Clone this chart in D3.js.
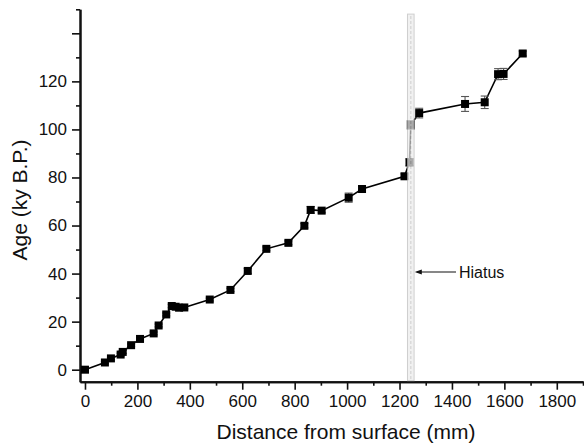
<!DOCTYPE html>
<html>
<head>
<meta charset="utf-8">
<script src="https://cdn.jsdelivr.net/npm/d3@7"></script>
<style>
  html, body { margin: 0; padding: 0; background: #fff; }
  svg { display: block; font-family: "Liberation Sans", Arial, Helvetica, sans-serif; }
</style>
</head>
<body>
<svg id="chart" width="584" height="445"></svg>
<script>
// Data
const depths = [0, 76, 99, 136, 144, 176, 210, 262, 281, 310, 331, 346, 359, 379, 476, 555, 621, 692, 776, 837, 861, 903, 1006, 1057, 1219, 1238, 1243, 1275, 1450, 1525, 1576, 1597, 1670];
const ages   = [0, 3.0, 4.7, 6.3, 7.4, 10.2, 12.8, 15.1, 18.4, 23.0, 26.5, 26.2, 25.8, 25.9, 29.2, 33.2, 41.1, 50.3, 52.8, 59.9, 66.5, 66.2, 71.6, 75.2, 80.5, 86.3, 101.9, 106.8, 110.6, 111.3, 123.0, 123.1, 131.6];
const errors = [0.5, 0.5, 0.5, 0.6, 0.6, 0.5, 0.5, 0.6, 0.6, 0.6, 0.7, 0.7, 0.6, 0.6, 0.6, 0.7, 1.0, 0.8, 0.8, 0.9, 1.4, 0.9, 1.9, 1.2, 1.0, 1.5, 1.8, 2.0, 3.1, 2.6, 2.3, 2.3, 1.0];
const xMajorTicks = [0, 200, 400, 600, 800, 1000, 1200, 1400, 1600, 1800];
const xMinorTicks = [100, 300, 500, 700, 900, 1100, 1300, 1500, 1700, 1900];
const yMajorTicks = [0, 20, 40, 60, 80, 100, 120, 140];
const yTickLabels = ["0", "20", "40", "60", "80", "100", "120", ""];
const yMinorTicks = [10, 30, 50, 70, 90, 110, 130, 150];
const hiatusDepth = 1243;
const hiatusTop = 148;
const hiatusLabel = "Hiatus";
const xTitle = "Distance from surface (mm)";
const yTitle = "Age (ky B.P.)";

const svg = d3.select("#chart");
const x = d3.scaleLinear().domain([-19, 1900]).range([80, 583]);
const y = d3.scaleLinear().domain([-5, 150]).range([381.7, 9.3]);

const data = depths.map((d, i) => ({ d, a: ages[i], e: errors[i] }));

// Axes
const xAxisMinor = d3.axisBottom(x).tickValues(xMinorTicks).tickSize(4).tickSizeOuter(0).tickFormat("");
const xAxis = d3.axisBottom(x).tickValues(xMajorTicks).tickSize(8).tickSizeOuter(0).tickPadding(5)
  .tickFormat(d3.format("d"));
const yAxisMinor = d3.axisLeft(y).tickValues(yMinorTicks).tickSize(4).tickSizeOuter(0).tickFormat("");
const yAxis = d3.axisLeft(y).tickValues(yMajorTicks).tickSize(8).tickSizeOuter(0).tickPadding(5)
  .tickFormat((v, i) => yTickLabels[i]);

const gx = svg.append("g").attr("transform", `translate(0,${y(-5)})`);
gx.append("g").call(xAxisMinor);
gx.append("g").call(xAxis);
const gy = svg.append("g").attr("transform", `translate(${x(-19)},0)`);
gy.append("g").call(yAxisMinor);
gy.append("g").call(yAxis);

svg.selectAll(".domain").attr("stroke", "#111").attr("stroke-width", 2);
svg.selectAll(".tick line").attr("stroke", "#111").attr("stroke-width", 1.6);
svg.selectAll(".tick text").attr("fill", "#111").style("font-size", "17px")
  .style("font-family", "'Liberation Sans', Arial, Helvetica, sans-serif");

// Axis titles
svg.append("text").attr("x", 346).attr("y", 438.5).attr("text-anchor", "middle")
  .style("font-size", "21px").attr("fill", "#111").text(xTitle);
svg.append("text").attr("transform", "translate(27,200) rotate(-90)").attr("text-anchor", "middle")
  .style("font-size", "21px").attr("fill", "#111").text(yTitle);

// Line
svg.append("path").datum(data)
  .attr("fill", "none").attr("stroke", "#000").attr("stroke-width", 1.6)
  .attr("d", d3.line().x(p => x(p.d)).y(p => y(p.a)));

// Error bars
const eb = svg.append("g").attr("stroke", "#555").attr("stroke-width", 1.1);
data.forEach(p => {
  const cx = x(p.d), y1 = y(p.a - p.e), y2 = y(p.a + p.e);
  eb.append("line").attr("x1", cx).attr("x2", cx).attr("y1", y1).attr("y2", y2);
  eb.append("line").attr("x1", cx - 4).attr("x2", cx + 4).attr("y1", y1).attr("y2", y1);
  eb.append("line").attr("x1", cx - 4).attr("x2", cx + 4).attr("y1", y2).attr("y2", y2);
});

// Markers
svg.append("g").selectAll("rect").data(data).join("rect")
  .attr("x", p => x(p.d) - 4).attr("y", p => y(p.a) - 4)
  .attr("width", 8).attr("height", 8).attr("fill", "#000");

// Hiatus band
const hx = x(hiatusDepth);
const band = svg.append("g").attr("opacity", 0.72);
band.append("rect").attr("x", hx - 3.3).attr("y", y(hiatusTop)).attr("width", 6.6)
  .attr("height", y(-5) - y(hiatusTop) - 1)
  .attr("fill", "#ececec").attr("stroke", "#bdbdbd").attr("stroke-width", 1);
band.append("line").attr("x1", hx).attr("x2", hx).attr("y1", y(hiatusTop) + 2).attr("y2", y(-5) - 2)
  .attr("stroke", "#c4c4c4").attr("stroke-width", 1.2).attr("stroke-dasharray", "3,2");

// Hiatus annotation
const ay = 272;
svg.append("line").attr("x1", 456).attr("x2", hx + 6).attr("y1", ay).attr("y2", ay)
  .attr("stroke", "#111").attr("stroke-width", 1.2);
svg.append("path").attr("d", `M${hx + 4},${ay} L${hx + 11},${ay - 2.5} L${hx + 11},${ay + 2.5} Z`).attr("fill", "#111");
svg.append("text").attr("x", 459).attr("y", 277.5).style("font-size", "16px").attr("fill", "#111").text(hiatusLabel);
</script>
</body>
</html>
